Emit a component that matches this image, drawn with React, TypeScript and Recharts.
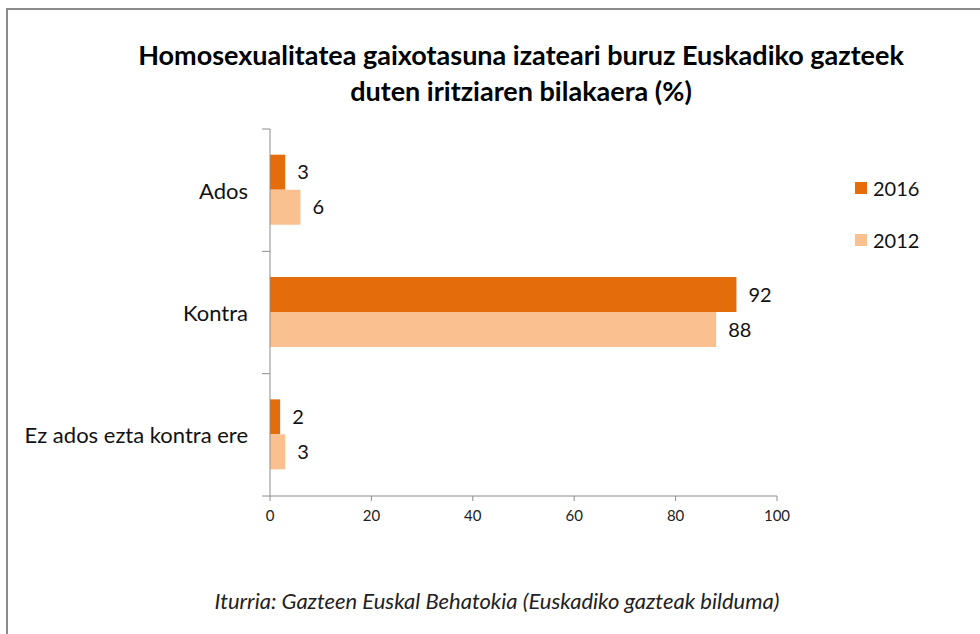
import React from "react";
import { BarChart, Bar, XAxis, YAxis, LabelList } from "recharts";

const categories = ["Ados", "Kontra", "Ez ados ezta kontra ere"];
const values2016 = [3, 92, 2];
const values2012 = [6, 88, 3];
const xTicks = [0, 20, 40, 60, 80, 100];
const seriesNames = ["2016", "2012"];

const data = categories.map((c, i) => ({ name: c, y2016: values2016[i], y2012: values2012[i] }));

const W = 980;
const H = 634;
const M = { top: 129, right: 203, bottom: 108, left: 10 };
const X_AXIS_H = 30;
const Y_AXIS_W = 260;
const FONT = "Lato, 'Open Sans', sans-serif";
const C2016 = "#E46C0A";
const C2012 = "#FAC090";
const AXIS = "#8c8c8c";
const colors = [C2016, C2012];

const band = (H - M.top - M.bottom - X_AXIS_H) / categories.length;

const YTick = (props: any) => {
  const { x, y, payload, index } = props;
  const ax = x + 22;
  return (
    <g>
      <text x={x} y={y} textAnchor="end" dominantBaseline="central" fontSize={22} fill="#111" fontFamily={FONT}>
        {payload.value}
      </text>
      <line x1={ax - 8} x2={ax} y1={y - band / 2} y2={y - band / 2} stroke={AXIS} />
      {index === categories.length - 1 && (
        <line x1={ax - 8} x2={ax} y1={y + band / 2} y2={y + band / 2} stroke={AXIS} />
      )}
    </g>
  );
};

export default function App() {
  return (
    <div style={{ position: "absolute", left: 0, top: 0, width: W, height: H, overflow: "hidden", background: "#fff" }}>
      <div
        style={{
          position: "absolute",
          left: 0,
          top: 37,
          width: 1042,
          textAlign: "center",
          fontFamily: FONT,
          fontWeight: 700,
          fontSize: 27,
          lineHeight: "36px",
          color: "#000",
        }}
      >
        Homosexualitatea gaixotasuna izateari buruz Euskadiko gazteek
        <br />
        duten iritziaren bilakaera (%)
      </div>
      <div style={{ position: "absolute", top: 0, left: 0 }}>
        <BarChart
          width={W}
          height={H}
          data={data}
          layout="vertical"
          margin={M}
          barCategoryGap="21%"
          barGap={0}
        >
          <XAxis
            type="number"
            domain={[0, 100]}
            ticks={xTicks}
            height={X_AXIS_H}
            stroke={AXIS}
            tickSize={5}
            tickMargin={9}
            tick={{ fill: "#222", fontSize: 15, fontFamily: FONT }}
          />
          <YAxis
            type="category"
            dataKey="name"
            width={Y_AXIS_W}
            stroke={AXIS}
            tickLine={false}
            tickSize={0}
            tickMargin={22}
            tick={<YTick />}
          />
          <Bar dataKey="y2016" name="2016" fill={C2016} isAnimationActive={false}>
            <LabelList dataKey="y2016" position="right" offset={12} fill="#111" fontSize={20} fontFamily={FONT} />
          </Bar>
          <Bar dataKey="y2012" name="2012" fill={C2012} isAnimationActive={false}>
            <LabelList dataKey="y2012" position="right" offset={12} fill="#111" fontSize={20} fontFamily={FONT} />
          </Bar>
        </BarChart>
      </div>
      <div style={{ position: "absolute", left: 855, top: 175, fontFamily: FONT, fontSize: 20, color: "#111" }}>
        {seriesNames.map((label, i) => (
          <div key={label} style={{ display: "flex", alignItems: "center", height: 26, marginBottom: i === 0 ? 26 : 0 }}>
            <span style={{ display: "inline-block", width: 12, height: 12, background: colors[i], marginRight: 6 }} />
            <span>{label}</span>
          </div>
        ))}
      </div>
      <div
        style={{
          position: "absolute",
          left: 0,
          top: 587,
          width: 994,
          textAlign: "center",
          fontFamily: FONT,
          fontStyle: "italic",
          fontSize: 22,
          lineHeight: "28px",
          color: "#222",
        }}
      >
        Iturria: Gazteen Euskal Behatokia (Euskadiko gazteak bilduma)
      </div>
      <div style={{ position: "absolute", left: 6, top: 8, width: 980, height: 2, background: AXIS, zIndex: 10 }} />
      <div style={{ position: "absolute", left: 6, top: 8, width: 2, height: 640, background: AXIS, zIndex: 10 }} />
    </div>
  );
}
